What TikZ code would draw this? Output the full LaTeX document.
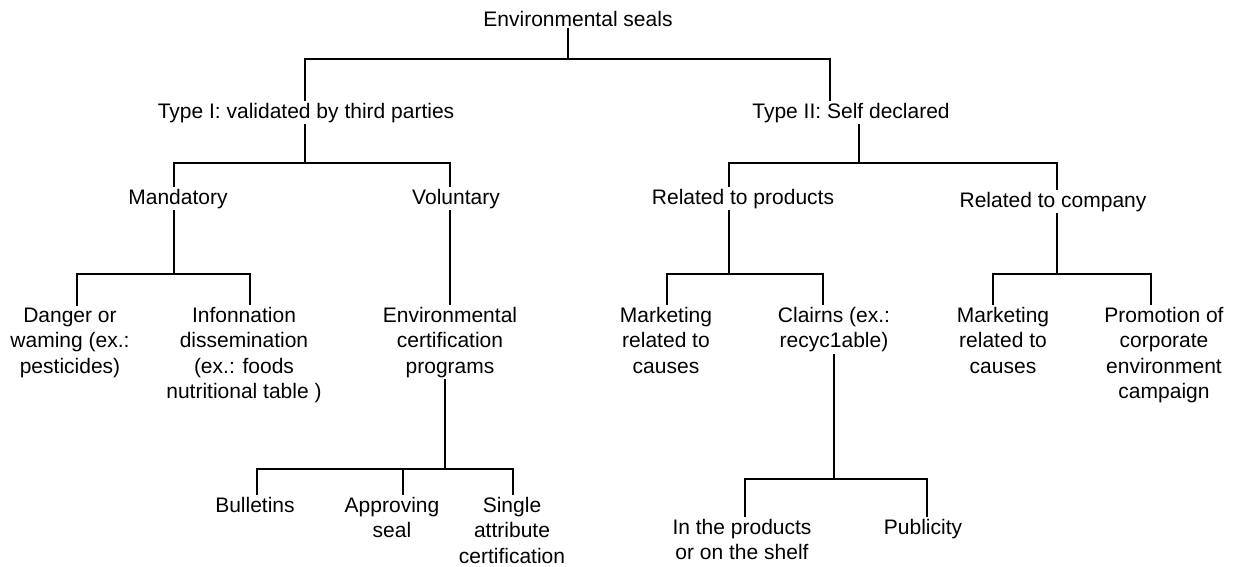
\documentclass[tikz,border=0pt]{standalone}
\usepackage{fontspec}
\setmainfont{Liberation Sans}
\begin{document}
\begin{tikzpicture}[x=1pt,y=-1pt,
  lbl/.style={anchor=base,align=center,inner sep=2.5pt,font=\fontsize{21}{25.5}\selectfont},
  conn/.style={line width=1.3pt,line cap=rect}]
\useasboundingbox (0,0) rectangle (1233,566);
% nodes (base = baseline of the last line)
\node[lbl] (root) at (578,26) {Environmental seals};
\node[lbl] (t1) at (306,118) {Type I: validated by third parties};
\node[lbl] (t2) at (851,118) {Type II: Self declared};
\node[lbl] (mand) at (178,204) {Mandatory};
\node[lbl] (vol) at (456,204) {Voluntary};
\node[lbl] (relp) at (743,204) {Related to products};
\node[lbl] (relc) at (1053,207) {Related to company};
\node[lbl] (danger) at (70,373) {Danger or\\waming (ex.:\\pesticides)};
\node[lbl] (info) at (244,398.5) {Infonnation\\dissemination\\(ex.: foods\\nutritional table )};
\node[lbl] (envc) at (450,373) {Environmental\\certification\\programs};
\node[lbl] (mkt1) at (666,373) {Marketing\\related to\\causes};
\node[lbl] (clair) at (834,347.5) {Clairns (ex.:\\recyc1able)};
\node[lbl] (mkt2) at (1003,373) {Marketing\\related to\\causes};
\node[lbl] (promo) at (1164,398.5) {Promotion of\\corporate\\environment\\campaign};
\node[lbl] (bull) at (255,512) {Bulletins};
\node[lbl] (appr) at (392,537.5) {Approving\\seal};
\node[lbl] (single) at (512,563) {Single\\attribute\\certification};
\node[lbl] (inprod) at (742,559.5) {In the products\\or on the shelf};
\node[lbl] (pub) at (923,534) {Publicity};
% bus coordinates
\coordinate (b0) at (568,59);
\coordinate (b1) at (305,163);
\coordinate (b2) at (859,163);
\coordinate (b3) at (174,274);
\coordinate (b4) at (729,274);
\coordinate (b5) at (1057,274);
\coordinate (b6) at (445,469);
\coordinate (b7) at (834,479);
% connectors
\draw[conn] (root.south -| b0) -- (b0);
\draw[conn] (t1.north -| 305,0) |- (b0) -| (t2.north -| 830,0);
\draw[conn] (t1.south -| b1) -- (b1);
\draw[conn] (mand.north -| 174,0) |- (b1) -| (vol.north -| 450,0);
\draw[conn] (t2.south -| b2) -- (b2);
\draw[conn] (relp.north -| 729,0) |- (b2) -| (relc.north -| 1057,0);
\draw[conn] (mand.south -| b3) -- (b3);
\draw[conn] (danger.north -| 77,0) |- (b3) -| (info.north -| 250,0);
\draw[conn] (vol.south -| 450,0) -- (envc.north -| 450,0);
\draw[conn] (relp.south -| b4) -- (b4);
\draw[conn] (mkt1.north -| 667,0) |- (b4) -| (clair.north -| 823,0);
\draw[conn] (relc.south -| b5) -- (b5);
\draw[conn] (mkt2.north -| 993,0) |- (b5) -| (promo.north -| 1151,0);
\draw[conn] (envc.south -| b6) -- (b6);
\draw[conn] (bull.north -| 257,0) |- (b6) -| (single.north -| 513,0);
\draw[conn] (appr.north -| 403,0) -- (403,469);
\draw[conn] (clair.south -| b7) -- (b7);
\draw[conn] (inprod.north -| 745,0) |- (b7) -| (pub.north -| 927,0);
\end{tikzpicture}
\end{document}
